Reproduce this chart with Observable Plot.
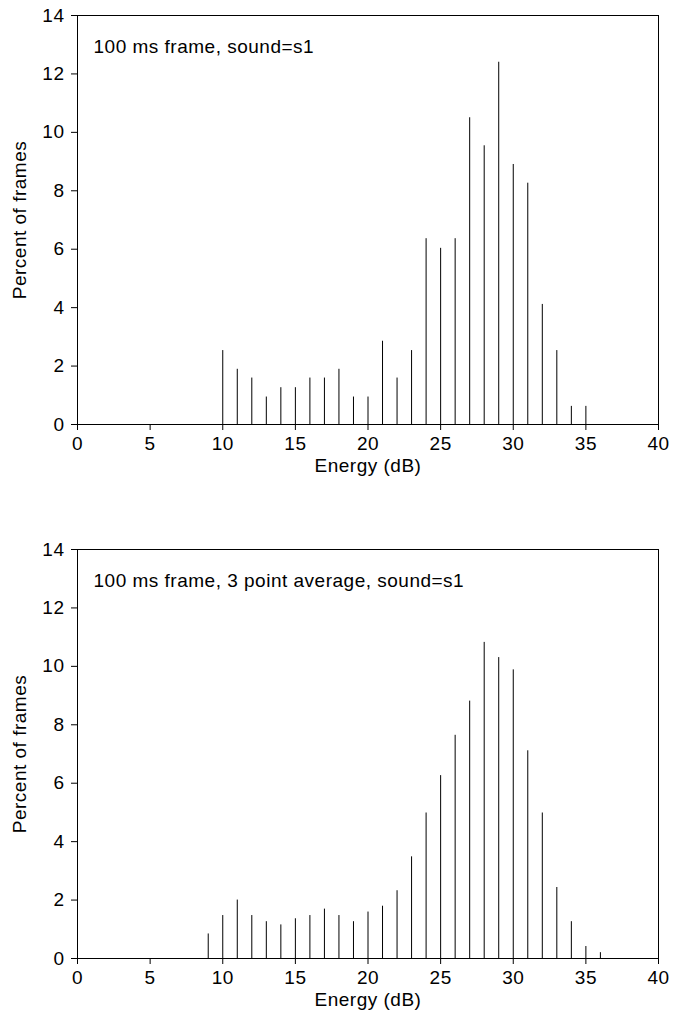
<!DOCTYPE html>
<html>
<head>
<meta charset="utf-8">
<script src="https://cdn.jsdelivr.net/npm/d3@7"></script>
<script src="https://cdn.jsdelivr.net/npm/@observablehq/plot@0.6"></script>
<style>
  html, body { margin: 0; padding: 0; background: #fff; }
  #chart > div, #chart svg { display: block; }
</style>
</head>
<body>
<div id="chart"></div>
<script>
// Top panel: 100 ms frame
const energyA = [10,11,12,13,14,15,16,17,18,19,20,21,22,23,24,25,26,27,28,29,30,31,32,33,34,35];
const percentA = [2.53,1.89,1.59,0.94,1.26,1.26,1.59,1.59,1.89,0.94,0.94,2.85,1.59,2.53,6.36,6.03,6.36,10.5,9.54,12.4,8.9,8.26,4.11,2.53,0.62,0.62];
const titleA = "100 ms frame, sound=s1";

// Bottom panel: 100 ms frame, 3 point average
const energyB = [9,10,11,12,13,14,15,16,17,18,19,20,21,22,23,24,25,26,27,28,29,30,31,32,33,34,35,36];
const percentB = [0.84,1.47,2.0,1.47,1.26,1.15,1.36,1.47,1.69,1.47,1.26,1.59,1.79,2.32,3.48,4.98,6.26,7.64,8.81,10.82,10.3,9.88,7.11,4.98,2.43,1.26,0.41,0.2];
const titleB = "100 ms frame, 3 point average, sound=s1";

const xTicks = [0,5,10,15,20,25,30,35,40];
const yTicks = [0,2,4,6,8,10,12,14];
const xLabel = "Energy (dB)";
const yLabel = "Percent of frames";

function panel(energy, percent, title, height, marginTop, marginBottom) {
  const data = energy.map((e, i) => ({energy: e, percent: percent[i]}));
  return Plot.plot({
    width: 676,
    height,
    marginTop,
    marginBottom,
    marginLeft: 77,
    marginRight: 18,
    style: {
      fontFamily: "'Liberation Sans', Arial, sans-serif",
      fontSize: "19px",
      letterSpacing: "0.5px",
      background: "#fff",
      color: "#000"
    },
    x: {domain: [0, 40]},
    y: {domain: [0, 14]},
    marks: [
      Plot.ruleX(data, {x: "energy", y1: 0, y2: "percent", stroke: "#000", strokeWidth: 1}),
      Plot.frame({stroke: "#000", strokeWidth: 1}),
      Plot.axisX(xTicks, {tickSize: 6, tickPadding: 6, label: null, stroke: "#000"}),
      Plot.axisY(yTicks, {tickSize: 6, tickPadding: 7, label: null, stroke: "#000"}),
      Plot.text([title], {text: d => d, frameAnchor: "top-left", textAnchor: "start", lineAnchor: "top", dx: 16, dy: 23.5, fill: "#000"}),
      Plot.text([xLabel], {text: d => d, frameAnchor: "bottom", textAnchor: "middle", lineAnchor: "top", dy: 33.5, fill: "#000"}),
      Plot.text([yLabel], {text: d => d, frameAnchor: "left", textAnchor: "middle", lineAnchor: "top", rotate: -90, dx: -65, fill: "#000"})
    ]
  });
}

const root = document.getElementById("chart");
root.appendChild(panel(energyA, percentA, titleA, 500, 15, 76));
root.appendChild(panel(energyB, percentB, titleB, 517, 49, 59));
</script>
</body>
</html>
